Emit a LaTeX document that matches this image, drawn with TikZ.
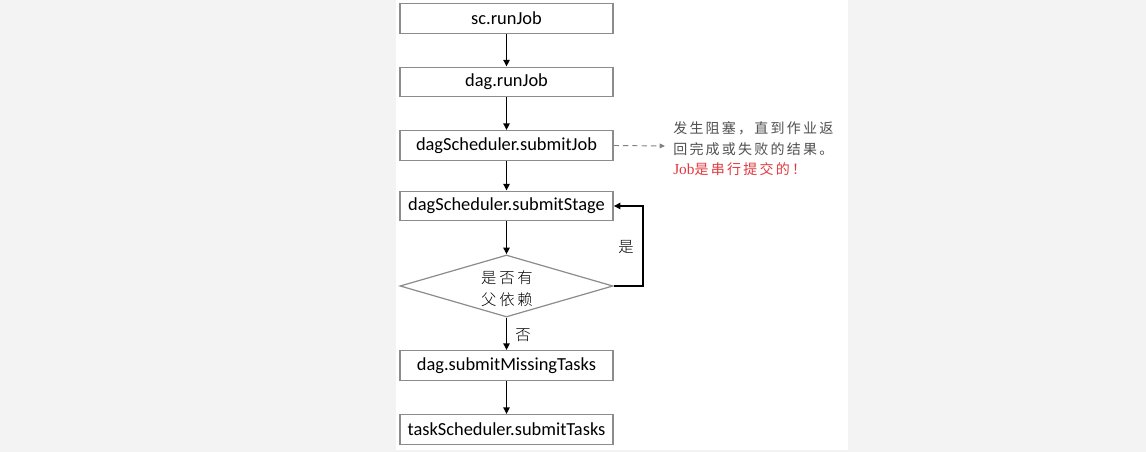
\documentclass[tikz,border=0pt]{standalone}
\usepackage{fontspec}
\setmainfont{Carlito}
\newfontfamily\cjk{Noto Sans CJK SC}[LetterSpace=16]
\newfontfamily\cjkd{Noto Sans CJK SC Light}[LetterSpace=18]
\newfontfamily\latinserif{Liberation Serif}
\usetikzlibrary{shapes.geometric,arrows.meta}
\definecolor{bggray}{HTML}{F3F3F3}
\definecolor{boxline}{HTML}{8C8C8C}
\definecolor{notegray}{HTML}{505050}
\definecolor{notered}{HTML}{E0393E}
\begin{document}
\begin{tikzpicture}[x=0.75pt,y=-0.75pt,
  fbox/.style={draw=boxline,line width=0.9pt,fill=white,minimum width=213*0.75pt,minimum height=29.5*0.75pt,inner sep=0pt,font=\fontsize{13.8pt}{15pt}\selectfont},
  flow/.style={-{Triangle[length=5pt,width=4.5pt]},line width=1.4pt,black},
  cjktext/.style={font=\cjk\fontsize{10.5pt}{12pt}\selectfont,inner sep=0pt}]
\useasboundingbox (0,0) rectangle (1146,452);
\fill[bggray] (0,0) rectangle (1146,452);
\fill[white] (396,0) rectangle (848,450);
\node[fbox] (b1) at (506.5,18.5) {sc.runJob};
\node[fbox] (b2) at (506.5,82) {dag.runJob};
\node[fbox] (b3) at (506.5,145.5) {dagScheduler.submitJob};
\node[fbox] (b4) at (506.5,206) {dagScheduler.submitStage};
\node[diamond,draw=boxline,line width=0.9pt,fill=white,minimum width=213*0.75pt,minimum height=62*0.75pt,aspect=3.4,inner sep=0pt] (d) at (506.5,286) {};
\node[inner sep=0pt,align=center,font=\cjkd\fontsize{11.5pt}{16.5pt}\selectfont] (dt) at (507,289) {是否有\\父依赖};
\node[fbox] (b5) at (506.5,365.5) {dag.submitMissingTasks};
\node[fbox] (b6) at (506.5,429.5) {taskScheduler.submitTasks};
\draw[flow] (b1) -- (b2);
\draw[flow] (b2) -- (b3);
\draw[flow] (b3) -- (b4);
\draw[flow] (b4) -- (d);
\draw[flow] (d) -- node[inner sep=0pt,right,xshift=6pt,yshift=-1pt,font=\cjkd\fontsize{11.5pt}{12pt}\selectfont] (no) {否} (b5);
\draw[flow] (b5) -- (b6);
\coordinate (loopc) at (643,286);
\draw[flow] (d.east) -- (loopc) -- (loopc |- b4.east) -- (b4.east);
\node[inner sep=0pt,font=\cjkd\fontsize{11.5pt}{12pt}\selectfont] (yes) at (626,247) {是};
\coordinate (dashend) at (665,146);
\draw[-{Triangle[length=4pt,width=3.5pt]},dashed,gray,line width=0.7pt,dash pattern=on 4pt off 3pt] (b3.east) -- (dashend);
\node[cjktext,anchor=west,text=notegray] (n1) at (673,128) {发生阻塞，直到作业返};
\node[cjktext,anchor=west,text=notegray] (n2) at (673,149) {回完成或失败的结果。};
\node[cjktext,anchor=west,text=notered] (n3) at (673,169) {{\latinserif\fontsize{11.5pt}{12pt}\selectfont Job}是串行提交的！};
\end{tikzpicture}
\end{document}
